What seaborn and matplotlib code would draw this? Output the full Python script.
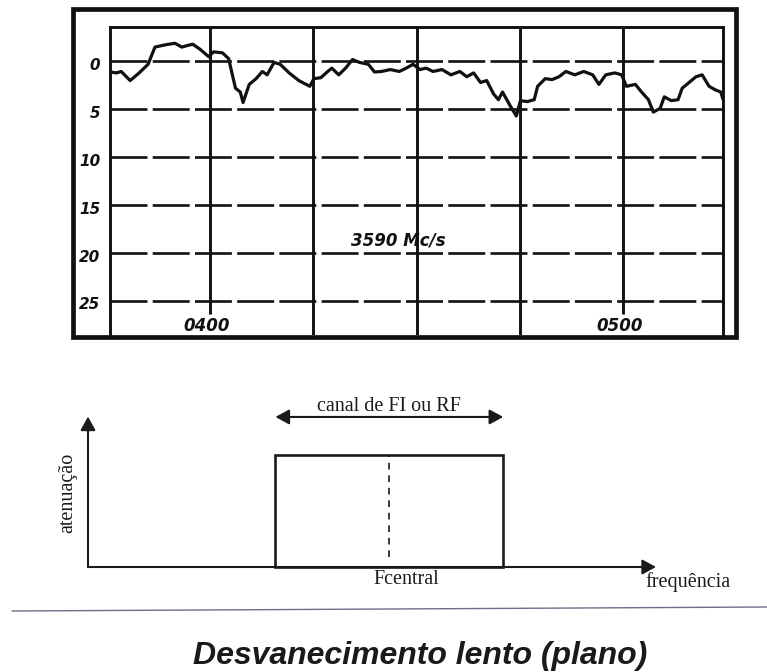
import matplotlib
matplotlib.use("Agg")
import matplotlib.pyplot as plt
import matplotlib.patches as mpatches
import matplotlib.transforms as mtransforms
import seaborn as sns
import numpy as np
import pandas as pd

sns.set_style("white")
plt.rcParams['font.family'] = ['DejaVu Sans']

# ---------------- data: strip-chart record (minutes after 03:45, attenuation dB)
minutes = [0.0, 1.4, 2.1, 3.4, 4.7, 6.0, 7.0, 8.6, 9.9, 10.9, 11.9, 12.5, 13.5, 14.8,
           15.5, 16.8, 17.7, 18.7, 19.4, 19.8, 20.7, 21.7, 22.6, 23.3, 24.3, 25.2,
           26.5, 27.9, 29.5, 30.1, 31.1, 32.1, 32.7, 33.7, 34.7, 35.7, 36.7, 38.0,
           38.9, 39.9, 41.2, 42.5, 43.5, 44.5, 45.5, 46.4, 47.4, 48.7, 50.0, 51.3,
           52.3, 53.3, 54.3, 55.2, 56.2, 56.9, 57.5, 58.5, 59.5, 60.1, 61.1, 62.1,
           62.6, 63.7, 64.7, 65.7, 66.7, 68.0, 69.3, 70.6, 71.5, 72.5, 73.8, 74.8,
           75.5, 76.8, 77.7, 78.7, 79.4, 80.4, 81.0, 82.0, 83.0, 83.6, 84.6, 85.6,
           86.5, 87.5, 88.5, 89.2, 89.6]
atten_db = [1.05, 1.2, 1.05, 2.0, 1.2, 0.3, -1.5, -1.75, -1.9, -1.5, -1.7, -1.8, -1.3, -0.5,
            -1.0, -0.9, -0.3, 2.8, 3.2, 4.3, 2.4, 1.8, 1.05, 1.4, 0.1, 0.3,
            1.2, 2.0, 2.6, 1.8, 1.7, 1.05, 0.7, 1.4, 0.7, -0.2, 0.1, 0.3,
            1.1, 1.05, 0.85, 1.05, 0.7, 0.3, 0.85, 0.7, 1.05, 0.85, 1.4, 1.05,
            1.6, 1.2, 2.2, 2.0, 3.4, 4.0, 3.2, 4.5, 5.7, 4.1, 4.2, 4.0,
            2.6, 1.8, 1.9, 1.6, 1.05, 1.4, 1.05, 1.4, 2.4, 1.4, 1.2, 1.4,
            2.6, 2.4, 3.2, 4.0, 5.3, 4.9, 3.7, 4.1, 4.0, 2.8, 2.2, 1.6,
            1.4, 2.6, 3.0, 3.2, 4.1]
db_levels = [0, 5, 10, 15, 20, 25]
db_labels = ["0", "5", "10", "15", "20", "25"]
hour_lines = [15, 30, 45, 60, 75]
hour_labels = {"0400": 15, "0500": 75}
freq_label = "3590 Mc/s"

# ---------------- data: channel diagram
band_lo, band_hi = 33.0, 73.1
f_central = 53.0
band_level = 75.0

df = pd.DataFrame({"min": minutes, "db": atten_db})

W, H = 767, 672
fig = plt.figure(figsize=(W / 100, H / 100), dpi=100)
fig.patch.set_facecolor("white")

def fx(px):
    return px / W

def fy(py):
    return 1 - py / H

# ---------------- top strip chart
ax = fig.add_axes([fx(110), fy(335), fx(723) - fx(110), fy(27) - fy(335)])
sns.lineplot(data=df, x="min", y="db", ax=ax, color="#111111", lw=2.3, sort=True)
ax.set_xlim(0.47, 89.53)
ax.set_ylim(28.6, -3.6)

for lv in db_levels:
    ax.axhline(lv, color="#111111", lw=1.9, dashes=(14, 2.0), zorder=1)
short = [hour_labels["0400"], hour_labels["0500"]]
for hl in hour_lines:
    top_end = 26.4 if hl in short else 28.6
    ax.vlines(hl, -3.6, top_end, color="#111111", lw=2.1, zorder=1)

for s in ["left", "right", "top"]:
    ax.spines[s].set_linewidth(2.1)
    ax.spines[s].set_color("#111111")
ax.spines["bottom"].set_visible(False)
ax.set_xticks([])
ax.set_yticks([])
ax.set_xlabel("")
ax.set_ylabel("")

trans = mtransforms.blended_transform_factory(ax.transAxes, ax.transData)
for lv, lb in zip(db_levels, db_labels):
    ax.text(-0.016, lv + 0.45, lb, transform=trans, ha="right", va="center",
            fontsize=11, fontweight="bold", fontstyle="italic", color="#111111")
for lb, xv in hour_labels.items():
    ax.text(xv - 0.5, 27.7, lb, ha="center", va="center", fontsize=12,
            fontweight="bold", fontstyle="italic", color="#111111")
ax.text(42.3, 18.75, freq_label, ha="center", va="center", fontsize=12,
        fontweight="bold", fontstyle="italic", color="#111111")

# outer frame of the record
fig.patches.append(mpatches.Rectangle((fx(73), fy(337)), fx(736) - fx(73), fy(9) - fy(337),
                                      transform=fig.transFigure, fill=False,
                                      edgecolor="#111111", lw=3.4))

# ---------------- lower channel diagram
ax2 = fig.add_axes([fx(88), fy(567), fx(656) - fx(88), fy(418) - fy(567)])
ax2.set_xlim(0, 100)
ax2.set_ylim(0, 100)
ax2.axis("off")
ax2.patch.set_alpha(0)

arrow_kw = dict(arrowstyle="-|>,head_length=0.55,head_width=0.3", color="#1a1a1a",
                lw=1.5, mutation_scale=15, shrinkA=0, shrinkB=0)
ax2.annotate("", xy=(0, 101), xytext=(0, 0), arrowprops=arrow_kw, annotation_clip=False)
ax2.annotate("", xy=(100, 0), xytext=(0, 0), arrowprops=arrow_kw, annotation_clip=False)

ax2.bar(x=[f_central], height=[band_level], width=band_hi - band_lo, fill=False,
        edgecolor="#1a1a1a", lw=1.9, clip_on=False)
ax2.vlines(f_central, 6.7, band_level, color="#1a1a1a", lw=1.2, linestyles=(0, (4, 3.5)))

ax2.annotate("", xy=(band_lo, 100.7), xytext=(band_hi, 100.7),
             arrowprops=dict(arrowstyle="<|-|>,head_length=0.55,head_width=0.3",
                             color="#1a1a1a", lw=1.5,
                             mutation_scale=15, shrinkA=0, shrinkB=0),
             annotation_clip=False)

serif = ["Liberation Serif", "DejaVu Serif"]
ax2.text(53.0, 108.0, "canal de FI ou RF", ha="center", va="center", fontsize=14.5,
         family=serif, color="#1a1a1a", clip_on=False)
ax2.text(56.0, -8.7, "Fcentral", ha="center", va="center", fontsize=14.5,
         family=serif, color="#1a1a1a", clip_on=False)
ax2.text(98.1, -10.0, "frequência", ha="left", va="center", fontsize=14.5,
         family=serif, color="#1a1a1a", clip_on=False)
ax2.text(-3.6, 50.0, "atenuação", ha="center", va="center", rotation=90, fontsize=14.5,
         family=serif, color="#1a1a1a", clip_on=False)

# separator line
fig.add_artist(plt.Line2D([fx(12), 1.0], [fy(611), fy(607)], transform=fig.transFigure,
                          color="#6a7088", lw=1.0))

# title
fig.text(fx(420), fy(656), "Desvanecimento lento (plano)", ha="center", va="center",
         fontsize=23, fontweight="bold", fontstyle="italic",
         family=["Liberation Sans", "DejaVu Sans"], color="#1a1a1a")

fig.savefig("out.png", dpi=100, facecolor="white")
